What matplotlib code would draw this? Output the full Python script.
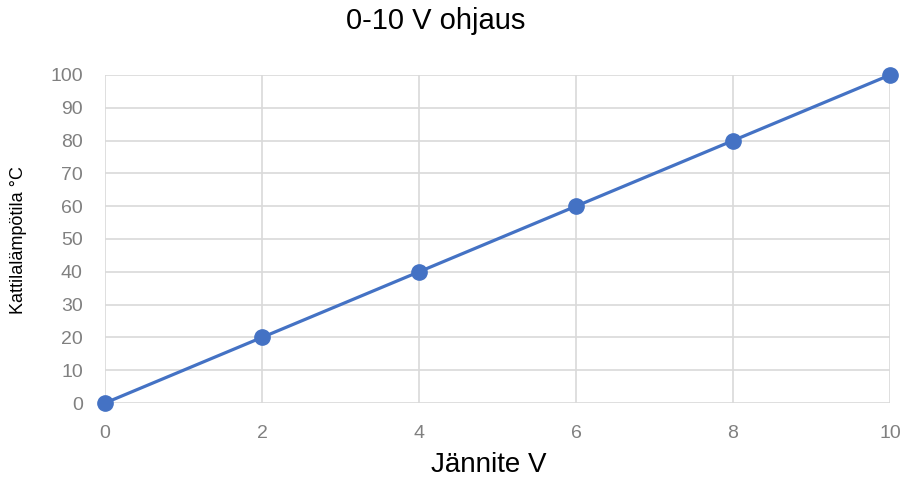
import matplotlib

matplotlib.use("Agg")
import matplotlib.pyplot as plt

voltage = [0, 2, 4, 6, 8, 10]
temperature = [0, 20, 40, 60, 80, 100]
x_ticks = [0, 2, 4, 6, 8, 10]
y_ticks = [0, 10, 20, 30, 40, 50, 60, 70, 80, 90, 100]

plt.rcParams["font.family"] = ["Liberation Sans", "DejaVu Sans"]

fig = plt.figure(figsize=(9.04, 4.82), dpi=100)
ax = fig.add_axes([0.1162, 0.1639, 0.8683, 0.6805])

ax.plot(voltage, temperature, color="#4472C4", linewidth=2.3,
        marker="o", markersize=11, zorder=3, clip_on=False)

ax.set_xlim(0, 10)
ax.set_ylim(0, 100)
ax.set_xticks(x_ticks)
ax.set_yticks(y_ticks)
ax.grid(True, color="#d9d9d9", linewidth=1.2)
ax.set_axisbelow(True)
for spine in ax.spines.values():
    spine.set_visible(False)
ax.tick_params(length=0, labelsize=14, labelcolor="#808080")
ax.tick_params(axis="x", pad=16)
ax.tick_params(axis="y", pad=16)

fig.text(0.482, 0.957, "0-10 V ohjaus", ha="center", va="center", fontsize=21)
fig.text(0.541, 0.035, "Jännite V", ha="center", va="center", fontsize=20)
fig.text(0.021, 0.502, "Kattilalämpötila °C", rotation=90, ha="center",
         va="center", fontsize=13)

fig.savefig("out.png", dpi=100)
